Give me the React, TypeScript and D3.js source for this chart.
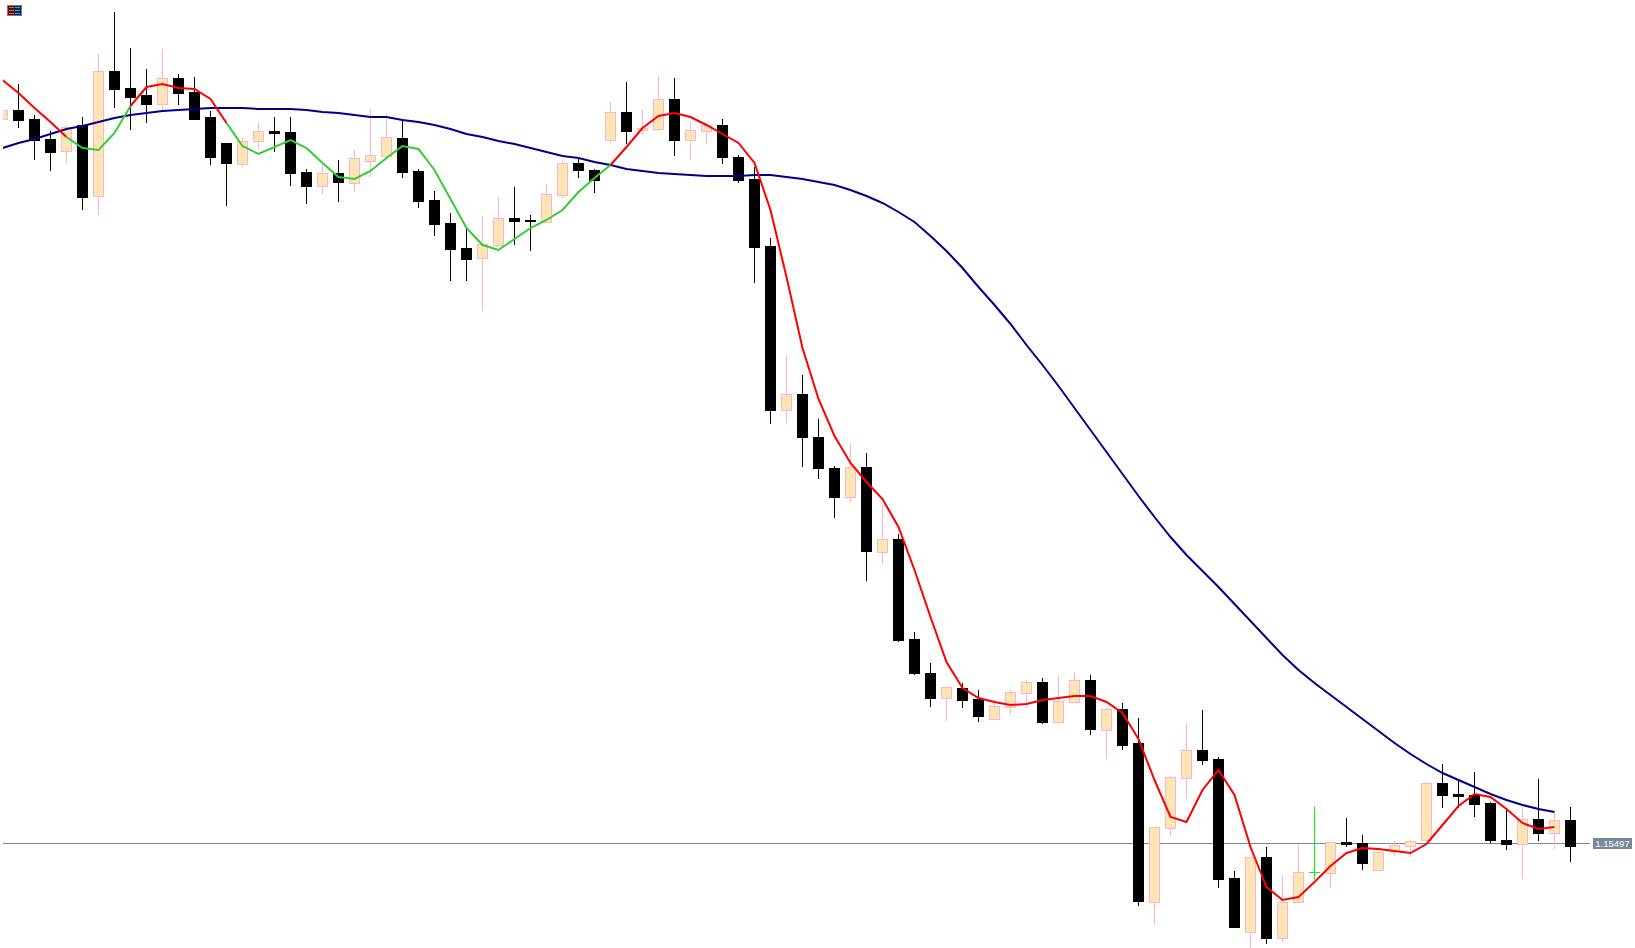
import React from "react";
import * as d3 from "d3";

// Prices in points (price x 100000), one entry per bar.
const opens = [116220,116230,116221,116201,116188,116215,116143,116269,116252,116245,116235,116262,116248,116223,116197,116175,116198,116209,116208,116168,116153,116167,116156,116178,116183,116202,116169,116140,116117,116092,116081,116094,116122,116120,116117,116144,116177,116170,116199,116228,116209,116210,116241,116199,116208,116215,116183,116161,116094,115929,115946,115903,115872,115842,115873,115787,115801,115701,115667,115641,115652,115641,115620,115632,115646,115658,115617,115637,115660,115609,115631,115597,115437,115511,115561,115590,115581,115462,115407,115483,115401,115437,115468,115466,115498,115497,115469,115488,115493,115499,115557,115546,115545,115537,115500,115495,115521,115506,115520];
const highs = [116230,116256,116225,116209,116215,116223,116286,116328,116292,116271,116291,116266,116263,116229,116197,116203,116218,116223,116223,116171,116175,116180,116190,116231,116226,116220,116171,116149,116127,116114,116124,116143,116153,116125,116156,116181,116183,116171,116238,116258,116230,116264,116262,116218,116217,116221,116185,116173,116102,115985,115965,115921,115874,115897,115887,115835,115806,115708,115677,115653,115657,115650,115640,115650,115660,115662,115665,115668,115665,115633,115637,115622,115513,115564,115617,115630,115583,115469,115483,115493,115465,115495,115533,115498,115522,115505,115489,115499,115500,115558,115576,115559,115568,115538,115530,115533,115561,115528,115533];
const lows = [116220,116212,116180,116169,116177,116130,116125,116232,116210,116217,116230,116235,116220,116175,116134,116173,116191,116188,116154,116136,116146,116138,116148,116163,116183,116162,116132,116104,116059,116059,116029,116093,116095,116089,116117,116142,116162,116147,116197,116196,116205,116209,116184,116180,116196,116176,116157,116057,115916,115917,115873,115861,115822,115837,115759,115776,115698,115665,115633,115619,115632,115618,115620,115626,115632,115616,115617,115637,115605,115581,115590,115434,115415,115504,115541,115575,115452,115412,115392,115396,115398,115437,115460,115452,115493,115470,115469,115484,115483,115499,115532,115532,115523,115497,115490,115461,115499,115491,115478];
const closes = [116230,116219,116199,116187,116213,116142,116269,116250,116242,116235,116262,116246,116220,116182,116176,116199,116209,116206,116166,116153,116167,116157,116182,116185,116203,116167,116138,116115,116090,116080,116096,116122,116118,116118,116146,116177,116169,116159,116228,116208,116212,116241,116199,116210,116215,116182,116159,116092,115929,115946,115902,115871,115842,115873,115788,115801,115699,115666,115641,115653,115639,115623,115634,115648,115658,115617,115639,115660,115610,115631,115594,115438,115513,115563,115590,115579,115460,115412,115483,115401,115438,115468,115468,115498,115495,115476,115488,115495,115499,115557,115544,115543,115535,115499,115495,115521,115506,115520,115493];

const fastMa = [116260,116247,116232,116218,116203,116192,116190,116207,116234,116253,116256,116252,116251,116241,116217,116194,116186,116193,116200,116192,116177,116163,116161,116169,116182,116194,116191,116170,116141,116112,116095,116090,116101,116112,116120,116130,116148,116162,116175,116193,116212,116224,116227,116223,116215,116206,116197,116177,116130,116063,115992,115941,115904,115877,115858,115841,115813,115770,115723,115678,115652,115642,115638,115635,115636,115640,115642,115644,115644,115638,115627,115601,115560,115523,115518,115550,115570,115545,115493,115453,115440,115443,115458,115474,115487,115492,115491,115489,115487,115496,115515,115534,115546,115543,115531,115517,115511,115513];
const slowMa = [116192,116197,116201,116206,116211,116214,116218,116222,116225,116227,116229,116230,116231,116232,116232,116232,116231,116231,116231,116230,116228,116227,116225,116223,116223,116220,116218,116215,116211,116206,116203,116199,116196,116192,116188,116184,116182,116178,116175,116171,116169,116167,116166,116165,116164,116164,116164,116165,116165,116163,116161,116158,116155,116150,116144,116137,116128,116118,116104,116089,116072,116053,116035,116016,115995,115975,115954,115932,115910,115888,115866,115844,115823,115803,115785,115769,115753,115736,115719,115702,115685,115670,115657,115645,115633,115621,115609,115597,115586,115576,115567,115560,115553,115546,115540,115535,115531,115528];

// Bars at which the fast average changes colour, and the colour of each stretch.
const fastBreaks = [0, 4, 8, 14, 38, 97];
const fastColors = ["#ff0000", "#32cd32", "#ff0000", "#32cd32", "#ff0000"];

const lastPrice = 115497;
const WIDTH = 1635;
const HEIGHT = 948;
const BAR_COUNT = opens.length;

const x = d3.scaleLinear().domain([0, BAR_COUNT - 1]).range([2.5, 1570.5]);
const y = d3.scaleLinear().domain([116340, 116340 - HEIGHT]).range([0, HEIGHT]);

const indexedLine = d3
  .line<[number, number]>()
  .x((d) => x(d[0]))
  .y((d) => y(d[1]));

const BODY = 5.5;
const BULL_FILL = "#ffe4b5";
const BULL_EDGE = "#ffb6c1";
const DOJI = "#00ff00";

function Candle({ i }: { i: number }) {
  const o = opens[i];
  const c = closes[i];
  const cx = x(i);
  const top = y(Math.max(o, c));
  const bottom = y(Math.min(o, c));
  if (o === c) {
    return (
      <g stroke={DOJI} strokeWidth={1} shapeRendering="crispEdges">
        <line x1={cx} x2={cx} y1={y(highs[i])} y2={y(lows[i])} />
        <line x1={cx - BODY} x2={cx + BODY} y1={top + 0.5} y2={top + 0.5} />
      </g>
    );
  }
  const bull = c > o;
  return (
    <g shapeRendering="crispEdges">
      <line
        x1={cx}
        x2={cx}
        y1={y(highs[i])}
        y2={y(lows[i])}
        stroke={bull ? BULL_EDGE : "#000"}
        strokeWidth={1}
      />
      {bull ? (
        <rect
          x={cx - BODY + 0.5}
          y={top + 0.5}
          width={BODY * 2 - 1}
          height={Math.max(bottom - top - 1, 1)}
          fill={BULL_FILL}
          stroke={BULL_EDGE}
          strokeWidth={1}
        />
      ) : (
        <rect x={cx - BODY} y={top} width={BODY * 2} height={bottom - top} fill="#000" />
      )}
    </g>
  );
}

function ChartIcon() {
  const rows = [7, 10, 13];
  return (
    <g shapeRendering="crispEdges">
      <rect x={7} y={5} width={15} height={11} fill="#232323" />
      <path d="M14.5 5.5H7.5V15.5H14.5" fill="none" stroke="#e85050" />
      <path d="M14.5 5.5H21.5V15.5H14.5" fill="none" stroke="#3a7fe0" />
      {rows.map((r) => (
        <g key={r}>
          <rect x={9} y={r} width={5} height={1} fill="#f05a3c" />
          <rect x={15} y={r} width={5} height={1} fill="#3f9be8" />
        </g>
      ))}
    </g>
  );
}

export default function App() {
  const priceY = Math.floor(y(lastPrice)) + 0.5;
  return (
    <svg
      width={WIDTH}
      height={HEIGHT}
      viewBox={`0 0 ${WIDTH} ${HEIGHT}`}
      style={{ position: "absolute", left: 0, top: 0, display: "block", background: "#fff" }}
    >
      <defs>
        <clipPath id="plot">
          <rect x={3} y={0} width={WIDTH - 3} height={HEIGHT} />
        </clipPath>
      </defs>
      <g clipPath="url(#plot)">
        <line
          x1={3}
          x2={1590}
          y1={priceY}
          y2={priceY}
          stroke="#778899"
          strokeWidth={1}
          shapeRendering="crispEdges"
        />
        {opens.map((_, i) => (
          <Candle key={i} i={i} />
        ))}
        <path
          d={indexedLine(slowMa.map((v, i) => [i, v] as [number, number])) ?? ""}
          fill="none"
          stroke="#00008b"
          strokeWidth={2}
        />
        {fastColors.map((color, k) => {
          const from = fastBreaks[k];
          const to = fastBreaks[k + 1];
          const pts = fastMa
            .slice(from, to + 1)
            .map((v, j) => [from + j, v] as [number, number]);
          return (
            <path key={k} d={indexedLine(pts) ?? ""} fill="none" stroke={color} strokeWidth={2} />
          );
        })}
      </g>
      <rect x={1593} y={838} width={39} height={11} fill="#778899" shapeRendering="crispEdges" />
      <text
        x={1612.5}
        y={847}
        textAnchor="middle"
        fontFamily="'Liberation Sans', sans-serif"
        fontSize={9.5}
        fill="#fff"
      >
        {(lastPrice / 100000).toFixed(5)}
      </text>
      <ChartIcon />
    </svg>
  );
}
